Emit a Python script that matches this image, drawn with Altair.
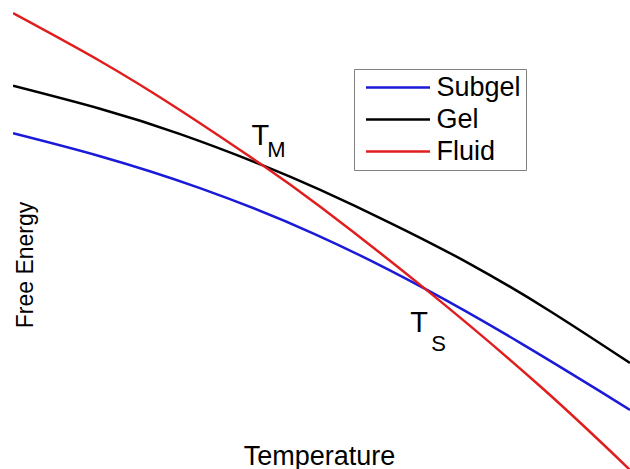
import altair as alt
import pandas as pd

# ---- data (arbitrary units) ----
series = ["Subgel", "Gel", "Fluid"]
colors = ["#1a1ad8", "#000000", "#e01e1e"]

subgel_t = [0, 14.1, 30.3, 48.9, 66.8, 82.2, 95.1, 100]
subgel_g = [71.6, 66.7, 59.9, 50.1, 38.4, 26.9, 16.6, 12.6]

gel_t = [0, 14.1, 27.1, 40.4, 49.8, 61.1, 74.1, 87.0, 100]
gel_g = [81.7, 76.8, 71.4, 64.8, 59.5, 52.5, 43.7, 33.7, 22.6]

fluid_t = [0, 14.1, 27.1, 40.4, 49.8, 66.8, 85.9, 100]
fluid_g = [97.2, 87.0, 76.5, 64.8, 55.9, 38.4, 17.1, -0.2]

# crossing points (transition temperatures)
cross_names = ["M", "S"]
cross_t = [40.4, 66.8]
cross_g = [64.8, 38.4]

rows = []
for name, ts, gs in [("Subgel", subgel_t, subgel_g), ("Gel", gel_t, gel_g), ("Fluid", fluid_t, fluid_g)]:
    for t, g in zip(ts, gs):
        rows.append({"series": name, "T": t, "G": g})
df = pd.DataFrame(rows)

ann = pd.DataFrame({"name": cross_names, "T": cross_t, "G": cross_g})

FONT = "Liberation Sans"

xscale = alt.Scale(domain=[0, 100], nice=False, zero=False)
yscale = alt.Scale(domain=[0, 100], nice=False, zero=False)

lines = alt.Chart(df).mark_line(strokeWidth=2.5, interpolate="natural", clip=True).encode(
    x=alt.X("T:Q", scale=xscale,
            axis=alt.Axis(title="Temperature", labels=False, ticks=False, domain=False, grid=False,
                          titleX=306, titleY=-5, titleBaseline="alphabetic", titleAlign="center",
                          titleFontSize=27, titleFont=FONT, titleFontWeight="normal", titleColor="black")),
    y=alt.Y("G:Q", scale=yscale,
            axis=alt.Axis(title="Free Energy", labels=False, ticks=False, domain=False, grid=False,
                          titleX=19, titleY=264.5, titleAngle=270, titleBaseline="alphabetic",
                          titleAlign="center", titleFontSize=23, titleFont=FONT,
                          titleFontWeight="normal", titleColor="black")),
    color=alt.Color("series:N", scale=alt.Scale(domain=series, range=colors),
                    legend=alt.Legend(title=None, orient="none", legendX=341, legendY=69,
                                      symbolType="M-8,0H8", symbolSize=64, symbolStrokeWidth=2.5,
                                      symbolOffset=25.5, labelOffset=25, labelFontSize=27,
                                      labelFont=FONT, labelColor="black", rowPadding=4,
                                      padding=5, strokeColor="#808080", fillColor="white")),
)

def ann_layer(name, text, dx, dy, size, align):
    enc = {"x": alt.X("T:Q", scale=xscale), "y": alt.Y("G:Q", scale=yscale)}
    if text is None:
        enc["text"] = alt.Text("name:N")
    else:
        enc["text"] = alt.value(text)
    return alt.Chart(ann).transform_filter(alt.datum.name == name).mark_text(
        dx=dx, dy=dy, fontSize=size, font=FONT, align=align, baseline="alphabetic", color="black"
    ).encode(**enc)

layers = [
    lines,
    ann_layer("M", "T", -2, -20, 29, "center"),
    ann_layer("M", None, 5, -8, 22, "left"),
    ann_layer("S", "T", -6, 43, 29, "center"),
    ann_layer("S", None, 6, 62, 22, "left"),
]

chart = alt.layer(*layers).properties(
    width=617, height=469,
    padding={"left": 13, "top": 0, "right": 0, "bottom": 0},
    autosize=alt.AutoSizeParams(type="none"),
    background="white",
).configure_view(stroke=None)

chart.save("out.html", embed_options={"renderer": "svg", "actions": False})
